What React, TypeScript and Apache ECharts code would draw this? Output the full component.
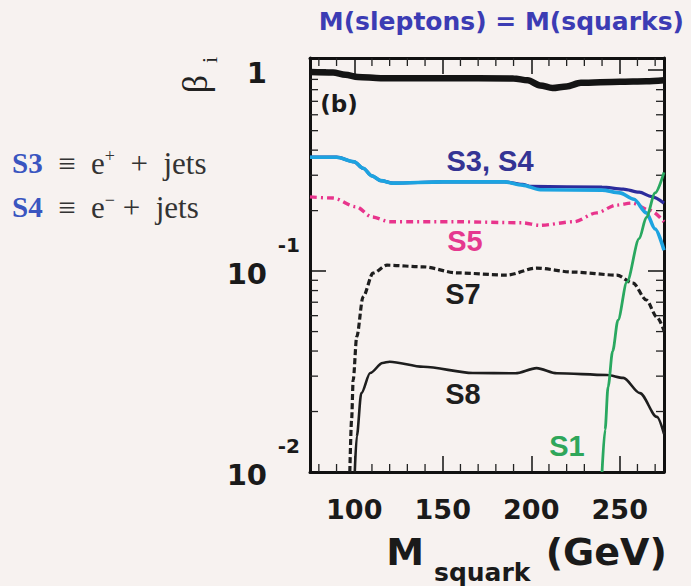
import React, { useEffect, useRef } from "react";
import * as echarts from "echarts";

// Axis ranges
const X_MIN = 75;
const X_MAX = 275;
const Y_MIN = 0.01;
const Y_MAX = 1.15;

// Minor tick positions (drawn inside the frame)
const xMinorTicks = [80, 90, 110, 120, 130, 140, 160, 170, 180, 190, 210, 220, 230, 240, 260, 270];
const yMinorTicks = [0.02, 0.03, 0.04, 0.05, 0.06, 0.07, 0.08, 0.09, 0.2, 0.3, 0.4, 0.5, 0.6, 0.7, 0.8, 0.9];

// Curves: [M_squark (GeV), beta_i]
const sumAll = [
  [75, 0.98], [88, 0.975], [95, 0.95], [102, 0.925], [115, 0.912], [150, 0.912], [190, 0.91],
  [198, 0.89], [205, 0.84], [212, 0.815], [220, 0.83], [228, 0.865], [250, 0.875], [265, 0.88], [275, 0.89],
];
const s3Cyan = [
  [75, 0.369], [90, 0.369], [100, 0.35], [105, 0.325], [110, 0.298], [115, 0.282], [122, 0.274],
  [150, 0.278], [185, 0.278], [195, 0.268], [205, 0.254], [240, 0.253], [250, 0.245], [258, 0.228],
  [265, 0.195], [270, 0.162], [275, 0.127],
];
const s4Blue = [
  [75, 0.369], [90, 0.369], [100, 0.35], [105, 0.325], [110, 0.298], [115, 0.282], [122, 0.274],
  [150, 0.278], [185, 0.278], [195, 0.27], [200, 0.264], [240, 0.262], [252, 0.256], [261, 0.247],
  [268, 0.235], [275, 0.218],
];
const s5 = [
  [75, 0.234], [88, 0.231], [101, 0.209], [110, 0.186], [120, 0.176], [158, 0.176], [195, 0.174],
  [205, 0.169], [224, 0.176], [237, 0.195], [248, 0.213], [257, 0.218], [267, 0.201], [275, 0.176],
];
const s7 = [
  [97.5, 0.01], [98.5, 0.0182], [99.4, 0.0287], [101.4, 0.0471], [105, 0.0745], [110.6, 0.0977],
  [118.5, 0.107], [139, 0.105], [158, 0.098], [186, 0.0955], [203, 0.1035], [223.6, 0.0989],
  [248.4, 0.0955], [257.5, 0.0871], [265, 0.0718], [271, 0.059], [275, 0.0505],
];
const s8 = [
  [100.3, 0.01], [101.4, 0.015], [104, 0.0247], [109, 0.0311], [116, 0.0349], [120, 0.0354],
  [139, 0.0334], [167, 0.0311], [191, 0.031], [203, 0.0329], [214.5, 0.031], [242.8, 0.0304],
  [252, 0.0294], [261.4, 0.0247], [271, 0.0188], [275, 0.0155],
];
const s1 = [
  [240, 0.01], [241.7, 0.0162], [243.4, 0.0265], [246, 0.04], [249, 0.057], [254, 0.088],
  [261, 0.145], [265, 0.185], [270, 0.245], [275, 0.31],
];

const BOLD_SANS = "DejaVu Sans";
const LABEL_SANS = "Liberation Sans";
const SERIF = "Liberation Serif";

export default function App() {
  const ref = useRef<HTMLDivElement>(null);

  useEffect(() => {
    if (!ref.current) return;
    const chart = echarts.init(ref.current, null, { renderer: "svg" });

    const tickData: number[][] = [
      ...xMinorTicks.map((v) => [v, Y_MIN, 0]),
      ...yMinorTicks.map((v) => [X_MIN, v, 1]),
    ];

    const curveLabel = (text: string, x: number, y: number, color: string) => ({
      type: "text",
      x,
      y,
      style: {
        text,
        fill: color,
        font: `bold 29px "${LABEL_SANS}"`,
        align: "center",
        verticalAlign: "middle",
      },
    });

    const lineSeries = (name: string, data: number[][], color: string, width: number, type: any = "solid") => ({
      name,
      type: "line",
      data,
      showSymbol: false,
      symbol: "none",
      smooth: 0.3,
      smoothMonotone: "x",
      lineStyle: { color, width, type },
      xAxisIndex: 0,
      yAxisIndex: 0,
    });

    const legendRich = {
      s: { fontFamily: SERIF, fontWeight: "bold", fontSize: 29, fill: "#3a55c0" },
      t: { fontFamily: SERIF, fontSize: 31, fill: "#333" },
      sup: { fontFamily: SERIF, fontSize: 18, fill: "#333", padding: [0, 0, 14, 0] },
    };

    const frameAxisLine = { show: true, onZero: false, lineStyle: { color: "#111", width: 3 } };
    const frameTick = { show: true, inside: true, length: 16, lineStyle: { color: "#111", width: 1.5 } };

    chart.setOption({
      animation: false,
      backgroundColor: "#f7f2f0",
      title: {
        text: "M(sleptons) = M(squarks)",
        right: 2,
        top: 4,
        textStyle: { fontFamily: BOLD_SANS, fontWeight: "bold", fontSize: 25, color: "#3c3cb4" },
      },
      grid: { left: 310, top: 58, width: 354, height: 414, outerBoundsMode: "none", containLabel: false },
      xAxis: [
        {
          type: "value",
          min: X_MIN,
          max: X_MAX,
          splitNumber: 4,
          position: "bottom",
          axisLine: frameAxisLine,
          axisTick: frameTick,
          splitLine: { show: false },
          axisLabel: {
            margin: 24,
            fontFamily: BOLD_SANS,
            fontWeight: "bold",
            fontSize: 27,
            color: "#1a1a1a",
            formatter: (v: number) => (v % 50 === 0 ? String(v) : ""),
          },
          name: "{m|M}{sub|squark}{g| (GeV)}",
          nameLocation: "middle",
          nameMoveOverlap: false,
          nameGap: 60,
          nameTextStyle: {
            padding: [0, 0, 0, 79],
            rich: {
              m: { fontFamily: BOLD_SANS, fontWeight: "bold", fontSize: 38, color: "#1a1a1a", lineHeight: 40, verticalAlign: "middle" },
              sub: { fontFamily: BOLD_SANS, fontWeight: "bold", fontSize: 25, color: "#1a1a1a", lineHeight: 25, padding: [40, 2, 0, 10], verticalAlign: "middle" },
              g: { fontFamily: BOLD_SANS, fontWeight: "bold", fontSize: 38, color: "#1a1a1a", lineHeight: 40, verticalAlign: "middle" },
            },
          },
        },
        {
          type: "value",
          min: X_MIN,
          max: X_MAX,
          splitNumber: 4,
          position: "top",
          axisLine: frameAxisLine,
          axisTick: frameTick,
          splitLine: { show: false },
          axisLabel: { show: false },
        },
      ],
      yAxis: [
        {
          type: "log",
          logBase: 10,
          min: Y_MIN,
          max: Y_MAX,
          position: "left",
          axisLine: frameAxisLine,
          axisTick: frameTick,
          splitLine: { show: false },
          axisLabel: {
            align: "right",
            margin: 10,
            padding: [0, 0, 23, 0],
            formatter: (v: number) => {
              const e = Math.log10(v);
              const r = Math.round(e);
              if (Math.abs(e - r) > 1e-6) return "";
              if (r === 0) return "{e| }\n{b|1}{sp|}";
              return `{s|${r}}\n{b|10}{sp|}`;
            },
            rich: {
              e: { fontSize: 20, lineHeight: 29 },
              s: { fontFamily: BOLD_SANS, fontWeight: "bold", fontSize: 20, lineHeight: 29, color: "#1a1a1a" },
              b: { fontFamily: BOLD_SANS, fontWeight: "bold", fontSize: 29, lineHeight: 29, color: "#1a1a1a" },
              sp: { width: 33, lineHeight: 29 },
            },
          },
        },
        {
          type: "log",
          logBase: 10,
          min: Y_MIN,
          max: Y_MAX,
          position: "right",
          axisLine: frameAxisLine,
          axisTick: frameTick,
          splitLine: { show: false },
          axisLabel: { show: false },
        },
      ],
      series: [
        lineSeries("all", sumAll, "#141414", 6.5),
        lineSeries("S8", s8, "#1e1e1e", 2.6),
        lineSeries("S7", s7, "#1e1e1e", 3.2, [6, 3]),
        lineSeries("S5", s5, "#e8348c", 3.4, [7, 4, 2, 4]),
        lineSeries("S4", s4Blue, "#2c2c9c", 3.2),
        lineSeries("S3", s3Cyan, "#1da3e0", 3.6),
        lineSeries("S1", s1, "#2aa860", 2.8),
        {
          name: "ticks",
          type: "custom",
          xAxisIndex: 0,
          yAxisIndex: 0,
          clip: false,
          silent: true,
          dimensions: ["x", "y", "kind"],
          encode: { x: 0, y: 1 },
          data: tickData,
          renderItem: (_params: any, api: any) => {
            const kind = api.value(2);
            const style = { stroke: "#222", lineWidth: 1.3 };
            if (kind === 0) {
              const v = api.value(0);
              const b = api.coord([v, Y_MIN]);
              const t = api.coord([v, Y_MAX]);
              return {
                type: "group",
                children: [
                  { type: "line", shape: { x1: b[0], y1: b[1], x2: b[0], y2: b[1] - 8 }, style },
                  { type: "line", shape: { x1: t[0], y1: t[1], x2: t[0], y2: t[1] + 8 }, style },
                ],
              };
            }
            const v = api.value(1);
            const l = api.coord([X_MIN, v]);
            const r = api.coord([X_MAX, v]);
            return {
              type: "group",
              children: [
                { type: "line", shape: { x1: l[0], y1: l[1], x2: l[0] + 8, y2: l[1] }, style },
                { type: "line", shape: { x1: r[0], y1: r[1], x2: r[0] - 8, y2: r[1] }, style },
              ],
            };
          },
        },
      ],
      graphic: [
        {
          type: "text",
          x: 339,
          y: 104,
          style: { text: "(b)", fill: "#1a1a1a", font: `bold 23px "${BOLD_SANS}"`, align: "center", verticalAlign: "middle" },
        },
        curveLabel("S3, S4", 490, 161, "#343494"),
        curveLabel("S5", 465, 241, "#e5388f"),
        curveLabel("S7", 463, 294, "#1e1e1e"),
        curveLabel("S8", 463, 394, "#1e1e1e"),
        curveLabel("S1", 567, 446, "#2fa65a"),
        // y-axis title, written bottom-to-top
        {
          type: "group",
          x: 195,
          y: 84,
          rotation: Math.PI / 2,
          children: [
            {
              type: "text",
              x: 0,
              y: 0,
              style: { text: "β", fontFamily: SERIF, fontSize: 36, fill: "#222", align: "center", verticalAlign: "middle" },
            },
            {
              type: "text",
              x: 24,
              y: 14,
              style: { text: "i", fontFamily: SERIF, fontSize: 22, fill: "#222", align: "center", verticalAlign: "middle" },
            },
          ],
        },
        {
          type: "text",
          x: 12,
          y: 163,
          style: {
            text: "{s|S3}{t|  ≡  e}{sup|+}{t|  +  jets}",
            align: "left",
            verticalAlign: "middle",
            rich: legendRich,
          },
        },
        {
          type: "text",
          x: 12,
          y: 207,
          style: {
            text: "{s|S4}{t|  ≡  e}{sup|−}{t| +  jets}",
            align: "left",
            verticalAlign: "middle",
            rich: legendRich,
          },
        },
      ],
    });

    return () => chart.dispose();
  }, []);

  return (
    <div
      ref={ref}
      style={{ position: "fixed", left: 0, top: 0, width: 691, height: 586 }}
    />
  );
}
